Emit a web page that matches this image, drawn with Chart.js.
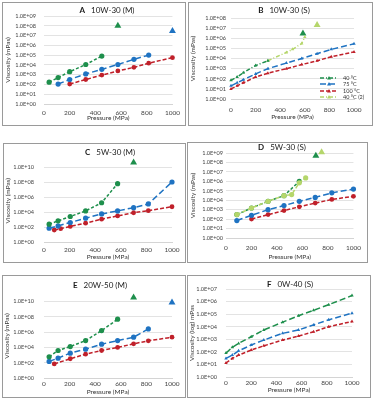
<!DOCTYPE html>
<html>
<head>
<meta charset="utf-8">
<script src="https://cdn.jsdelivr.net/npm/chart.js@4.4.1/dist/chart.umd.min.js"></script>
<style>
  body { margin: 0; background: #fff; width: 374px; height: 400px; position: relative; overflow: hidden; }
  .panel { position: absolute; border: 1px solid #9a9a9a; box-sizing: border-box; background: #fff; }
  .panel canvas { display: block; }
</style>
</head>
<body>
<div class="panel" style="left:2px;top:2px;width:184px;height:124px"><canvas id="chartA" width="182" height="122"></canvas></div>
<div class="panel" style="left:188px;top:2px;width:185px;height:124px"><canvas id="chartB" width="183" height="122"></canvas></div>
<div class="panel" style="left:3px;top:143px;width:183px;height:120px"><canvas id="chartC" width="181" height="118"></canvas></div>
<div class="panel" style="left:187px;top:142px;width:181px;height:121px"><canvas id="chartD" width="179" height="119"></canvas></div>
<div class="panel" style="left:2px;top:275px;width:184px;height:123px"><canvas id="chartE" width="182" height="121"></canvas></div>
<div class="panel" style="left:187px;top:275px;width:184px;height:123px"><canvas id="chartF" width="182" height="121"></canvas></div>
<script>
// ---- data (pressure in MPa, viscosity in mPas) ----
// A 10W-30 (M)
const A_p40 = [40, 110, 200, 325, 450]
const A_v40 = [170, 500, 2000, 11000, 80000]
const A_p75 = [110, 200, 325, 450, 575, 700, 815]
const A_v75 = [110, 320, 1200, 3500, 11000, 37000, 100000]
const A_p100 = [200, 325, 450, 575, 700, 815, 1000]
const A_v100 = [110, 320, 900, 2400, 5600, 15000, 55000]
const A_solid40_p = [575], A_solid40_v = [1e8]
const A_solid75_p = [1000], A_solid75_v = [3e7]

// B 10W-30 (S)
const B_p40 = [0, 50, 100, 200, 300]
const B_v40 = [70, 150, 400, 2000, 6000]
const B_p40b = [300, 450, 500, 575, 600]
const B_v40b = [6000, 40000, 80000, 300000, 1300000]
const B_p75 = [0, 50, 100, 200, 300, 450, 575, 700, 815, 1000]
const B_v75 = [20, 40, 80, 300, 1000, 3500, 10000, 30000, 80000, 280000]
const B_p100 = [0, 50, 100, 200, 300, 450, 575, 700, 815, 1000]
const B_v100 = [10, 20, 40, 150, 350, 1000, 2500, 6000, 15000, 45000]
const B_solid40_p = [585], B_solid40_v = [3e6]
const B_solid40b_p = [700], B_solid40b_v = [2e7]
const B_legend = ['40 °C', '75 °C', '100 °C', '40 °C (2)']

// C 5W-30 (M)
const C_p40 = [40, 110, 205, 325, 450, 575]
const C_v40 = [240, 660, 2500, 14000, 170000, 6e7]
const C_p75 = [40, 110, 205, 325, 450, 575, 700, 815, 1000]
const C_v75 = [70, 140, 400, 1500, 5500, 14000, 38000, 120000, 1e8]
const C_p100 = [80, 130, 205, 325, 450, 575, 700, 815, 1000]
const C_v100 = [40, 60, 120, 320, 1100, 3000, 8000, 15000, 50000]
const C_solid40_p = [700], C_solid40_v = [4e10]

// D 5W-30 (S)
const D_p40 = [85, 200, 330, 455, 575]
const D_v40 = [300, 1500, 7700, 30000, 1e6]
const D_p40b = [85, 200, 330, 455, 515, 575, 625]
const D_v40b = [300, 1500, 7700, 30000, 40000, 700000, 2.3e6]
const D_p75 = [85, 200, 330, 455, 575, 700, 830, 1000]
const D_v75 = [70, 250, 1000, 2700, 7700, 20000, 60000, 150000]
const D_p100 = [200, 330, 455, 575, 700, 830, 1000]
const D_v100 = [100, 300, 800, 2000, 5000, 12000, 26000]
const D_solid40_p = [705], D_solid40_v = [5e8]
const D_solid40b_p = [750], D_solid40b_v = [1.2e9]

// E 20W-50 (M)
const E_p40 = [40, 110, 205, 325, 450, 575]
const E_v40 = [600, 4000, 13000, 80000, 1.6e6, 5e7]
const E_p75 = [40, 110, 205, 325, 450, 575, 700, 815]
const E_v75 = [150, 400, 1800, 6000, 27000, 80000, 220000, 2.7e6]
const E_p100 = [80, 205, 325, 450, 575, 700, 815, 1000]
const E_v100 = [70, 330, 1300, 4000, 10000, 30000, 74000, 220000]
const E_solid40_p = [700], E_solid40_v = [3.6e10]
const E_solid75_p = [1000], E_solid75_v = [8e9]

// F 0W-40 (S)
const F_p = [0, 50, 100, 200, 300, 450, 575, 695, 815, 1000]
const F_v40 = [80, 230, 470, 1600, 5500, 23000, 74000, 200000, 570000, 3e6]
const F_v75 = [30, 55, 120, 350, 870, 3000, 5500, 14000, 35000, 120000]
const F_v100 = [13, 30, 55, 140, 300, 870, 1800, 4000, 10000, 26000]

const green = '#1e8f4c'
const blue = '#1f73c2'
const red = '#c0202a'
const lightGreen = '#b5d66b'
const FONT = 'Lato'

function pts(ps, vs) {
  return ps.map((p, i) => ({ x: p, y: vs[i] }))
}

function line(label, ps, vs, color, dash, style, r) {
  return {
    label: label, data: pts(ps, vs), showLine: true, fill: false,
    borderColor: color, backgroundColor: color, borderWidth: 1.5, borderDash: dash,
    pointStyle: style, pointRadius: r, pointBorderWidth: 0, pointBackgroundColor: color,
    clip: false
  }
}

function solid(ps, vs, color) {
  return {
    label: '', data: pts(ps, vs), showLine: false,
    pointStyle: 'triangle', pointRadius: 4, pointBorderWidth: 0,
    backgroundColor: color, borderColor: color, clip: false
  }
}

// draws "A   10W-30 (M)" style heading inside the plot
const panelTitle = {
  id: 'panelTitle',
  afterDraw(chart, args, opts) {
    const ctx = chart.ctx
    ctx.save()
    ctx.fillStyle = '#1a1a1a'
    ctx.textBaseline = 'middle'
    ctx.textAlign = 'left'
    ctx.font = 'bold 8px ' + FONT
    const w1 = ctx.measureText(opts.letter).width
    ctx.font = '8px ' + FONT
    const w2 = ctx.measureText(opts.text).width
    const gap = 6
    let x = opts.x - (w1 + gap + w2) / 2
    ctx.font = 'bold 8px ' + FONT
    ctx.fillText(opts.letter, x, opts.y)
    ctx.font = '8px ' + FONT
    ctx.fillText(opts.text, x + w1 + gap, opts.y)
    ctx.restore()
  }
}

// small legend placed inside the plot (panel B)
const insideLegend = {
  id: 'insideLegend',
  afterDraw(chart, args, opts) {
    if (!opts.labels) return
    const ctx = chart.ctx
    ctx.save()
    ctx.font = '5.5px ' + FONT
    ctx.textBaseline = 'middle'
    opts.labels.forEach(function(text, i) {
      const ds = chart.data.datasets[opts.sets[i]]
      const y = opts.y[i]
      ctx.strokeStyle = ds.borderColor
      ctx.lineWidth = 1.5
      ctx.setLineDash(ds.borderDash)
      ctx.beginPath()
      ctx.moveTo(opts.x, y)
      ctx.lineTo(opts.x + 18, y)
      ctx.stroke()
      ctx.setLineDash([])
      ctx.fillStyle = ds.borderColor
      ctx.beginPath()
      ctx.moveTo(opts.x + 9, y - 2)
      ctx.lineTo(opts.x + 11, y + 1.5)
      ctx.lineTo(opts.x + 7, y + 1.5)
      ctx.closePath()
      ctx.fill()
      ctx.fillStyle = '#333'
      ctx.fillText(text, opts.x + 23, y)
    })
    ctx.restore()
  }
}

function make_chart(id, p) {
  const ctx = document.getElementById(id).getContext('2d')
  return new Chart(ctx, {
    type: 'scatter',
    data: { datasets: p.datasets },
    options: {
      responsive: false,
      animation: false,
      events: [],
      layout: { padding: { top: p.top, right: p.right, left: 0, bottom: 0 } },
      scales: {
        x: {
          type: 'linear', min: 0, max: 1000,
          ticks: { stepSize: 200, autoSkip: false, maxRotation: 0, padding: p.xPad,
                   color: '#444', font: { size: 6.5, family: FONT },
                   callback: function(v) { return String(v) } },
          grid: { display: false, drawTicks: false },
          border: { display: true, color: '#d4d4d4', width: 1 },
          title: { display: true, text: 'Pressure (MPa)', color: '#333',
                   font: { size: 6.5, family: FONT }, padding: { top: 0, bottom: p.xTitlePad } },
          afterFit(s) { s.height = p.xHeight }
        },
        y: {
          type: 'logarithmic', min: 1, max: p.yMax,
          afterBuildTicks(s) {
            const t = []
            for (let e = 0; Math.pow(10, e) <= p.yMax * 1.001; e += p.yStep) t.push({ value: Math.pow(10, e) })
            s.ticks = t
          },
          ticks: {
            autoSkip: false, padding: p.yPad, color: '#444', font: { size: 5.6, family: FONT },
            callback: function(v) { return '1.0E+' + String(Math.round(Math.log10(v))).padStart(2, '0') }
          },
          grid: { color: '#dcdcdc', lineWidth: 0.8, drawTicks: false },
          border: { display: false },
          title: { display: true, text: p.yTitle, color: '#333',
                   font: { size: 6.5, family: FONT }, padding: { top: p.yTitlePad, bottom: 0 } },
          afterFit(s) { s.width = p.yWidth }
        }
      },
      plugins: {
        legend: { display: false },
        tooltip: { enabled: false },
        panelTitle: p.title,
        insideLegend: p.legend || {}
      }
    },
    plugins: [panelTitle, insideLegend]
  })
}

make_chart('chartA', {
  yMax: 1e9, yStep: 1, yWidth: 41, top: 13, right: 9, xHeight: 21,
  xPad: 5, xTitlePad: 3, yPad: 8, yTitlePad: 1, yTitle: 'Viscosity (mPas)',
  title: { letter: 'A', text: '10W-30 (M)', x: 104, y: 7 },
  datasets: [
    line('40 °C', A_p40, A_v40, green, [3, 2], 'circle', 2.6),
    line('75 °C', A_p75, A_v75, blue, [6, 3], 'circle', 2.6),
    line('100 °C', A_p100, A_v100, red, [4, 2], 'circle', 2.4),
    solid(A_solid40_p, A_solid40_v, green),
    solid(A_solid75_p, A_solid75_v, blue)
  ]
})

make_chart('chartB', {
  yMax: 1e8, yStep: 1, yWidth: 42, top: 15, right: 18, xHeight: 26,
  xPad: 7, xTitlePad: 4, yPad: 5, yTitlePad: 0, yTitle: 'Viscosity (mPas)',
  title: { letter: 'B', text: '10W-30 (S)', x: 95, y: 7 },
  legend: { labels: B_legend, sets: [0, 1, 2, 3], x: 131, y: [75, 81, 88, 94] },
  datasets: [
    line('40 °C', B_p40, B_v40, green, [4, 2, 1, 2], 'triangle', 2),
    line('75 °C', B_p75, B_v75, blue, [6, 3], 'triangle', 2),
    line('100 °C', B_p100, B_v100, red, [4, 2], 'triangle', 2),
    line('40 °C (2)', B_p40b, B_v40b, lightGreen, [4, 2, 1, 2], 'triangle', 2),
    solid(B_solid40_p, B_solid40_v, green),
    solid(B_solid40b_p, B_solid40b_v, lightGreen)
  ]
})

make_chart('chartC', {
  yMax: 1e11, yStep: 2, yWidth: 40, top: 15.5, right: 13, xHeight: 20,
  xPad: 4, xTitlePad: 1, yPad: 10, yTitlePad: 0, yTitle: 'Viscosity (mPas)',
  title: { letter: 'C', text: '5W-30 (M)', x: 106, y: 8 },
  datasets: [
    line('40 °C', C_p40, C_v40, green, [3, 2], 'circle', 2.6),
    line('75 °C', C_p75, C_v75, blue, [6, 3], 'circle', 2.6),
    line('100 °C', C_p100, C_v100, red, [4, 2], 'circle', 2.4),
    solid(C_solid40_p, C_solid40_v, green)
  ]
})

make_chart('chartD', {
  yMax: 1e9, yStep: 1, yWidth: 38, top: 10, right: 13, xHeight: 24,
  xPad: 6, xTitlePad: 1, yPad: 3, yTitlePad: 1, yTitle: 'Viscosity (mPas)',
  title: { letter: 'D', text: '5W-30 (S)', x: 94, y: 4.5 },
  datasets: [
    line('40 °C (2)', D_p40b, D_v40b, lightGreen, [4, 2], 'circle', 2.6),
    line('40 °C', D_p40, D_v40, green, [3, 2], 'circle', 2.6),
    line('75 °C', D_p75, D_v75, blue, [6, 3], 'circle', 2.6),
    line('100 °C', D_p100, D_v100, red, [4, 2], 'circle', 2.4),
    solid(D_solid40_p, D_solid40_v, green),
    solid(D_solid40b_p, D_solid40b_v, lightGreen)
  ]
})

make_chart('chartE', {
  yMax: 1e11, yStep: 2, yWidth: 41, top: 18, right: 13, xHeight: 19,
  xPad: 2, xTitlePad: 1, yPad: 10, yTitlePad: 0, yTitle: 'Viscosity (mPas)',
  title: { letter: 'E', text: '20W-50 (M)', x: 97, y: 9 },
  datasets: [
    line('40 °C', E_p40, E_v40, green, [3, 2], 'circle', 2.6),
    line('75 °C', E_p75, E_v75, blue, [6, 3], 'circle', 2.6),
    line('100 °C', E_p100, E_v100, red, [4, 2], 'circle', 2.4),
    solid(E_solid40_p, E_solid40_v, green),
    solid(E_solid75_p, E_solid75_v, blue)
  ]
})

make_chart('chartF', {
  yMax: 1e7, yStep: 1, yWidth: 38, top: 13, right: 18, xHeight: 20,
  xPad: 2, xTitlePad: 3, yPad: 9, yTitlePad: 0, yTitle: 'Viscosity (log) mPas',
  title: { letter: 'F', text: '0W-40 (S)', x: 102, y: 8 },
  datasets: [
    line('40 °C', F_p, F_v40, green, [6, 3], 'triangle', 2),
    line('75 °C', F_p, F_v75, blue, [6, 3], 'triangle', 2),
    line('100 °C', F_p, F_v100, red, [4, 2], 'triangle', 2)
  ]
})
</script>
</body>
</html>
